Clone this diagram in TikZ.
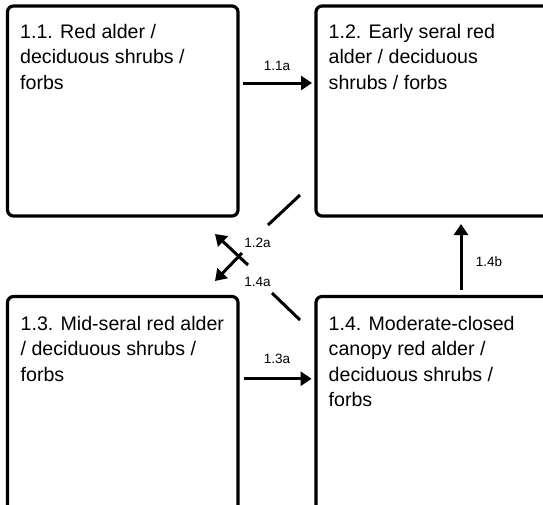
\documentclass[tikz,border=0pt]{standalone}
\usepackage{fontspec}
\setmainfont{Liberation Sans}
\usepackage{tikz}
\usetikzlibrary{arrows.meta, positioning, calc}

\begin{document}
\begin{tikzpicture}[x=1pt,y=-1pt,
    statebox/.style={draw=black,line width=3.2pt,rounded corners=6pt,outer sep=0pt,inner sep=0pt},
    statetext/.style={anchor=north west,inner sep=0pt,align=left,font=\fontsize{19.6}{25.5}\selectfont},
    trans/.style={line width=3pt,-{Triangle[length=11pt,width=14pt]}},
    transline/.style={line width=3pt},
    translabel/.style={inner sep=0pt,font=\fontsize{13.5}{15}\selectfont}]
    \useasboundingbox (0,0) rectangle (543,504);
    \clip (0,0) rectangle (543,504);

    % Stati
    \node[statebox,minimum width=230.5,minimum height=210] (s11) at (122.75,111) {};
    \node[statebox,minimum width=244,minimum height=210] (s12) at (438,111) {};
    \node[statebox,minimum width=230.5,minimum height=233.5] (s13) at (122.75,413.25) {};
    \node[statebox,minimum width=244,minimum height=233.5] (s14) at (438,413.25) {};

    \node[statetext] (t11) at ([shift={(12.5,18)}]s11.north west) {1.1. Red alder /\\deciduous shrubs /\\forbs};
    \node[statetext] (t12) at ([shift={(12.5,18)}]s12.north west) {1.2. Early seral red\\alder / deciduous\\shrubs / forbs};
    \node[statetext] (t13) at ([shift={(13,19.5)}]s13.north west) {1.3. Mid-seral red alder\\/ deciduous shrubs /\\forbs};
    \node[statetext] (t14) at ([shift={(12.5,19.5)}]s14.north west) {1.4. Moderate-closed\\canopy red alder /\\deciduous shrubs /\\forbs};

    % Transizioni
    \draw[trans] ([shift={(5,-28)}]s11.east) -- ([shift={(-4,-28)}]s12.west);
    \node[translabel] (l11a) at (277,65.5) {1.1a};

    \draw[trans] ([shift={(6,-34.5)}]s13.east) -- ([shift={(-4.4,-34.5)}]s14.west);
    \node[translabel] (l13a) at (277,359) {1.3a};

    \draw[trans] ([shift={(23,-6.5)}]s14.north) -- ([shift={(23,8)}]s12.south);
    \node[translabel] (l14b) at (489,262) {1.4b};

    % Diagonali
    \coordinate (d12a) at (268,225);
    \coordinate (a12a) at (248,265);
    \coordinate (h12a) at (215,234);
    \draw[transline] ([shift={(-16,-21)}]s12.south west) -- (d12a);
    \draw[trans] (a12a) -- (h12a);
    \node[translabel] (l12a) at (257.5,243) {1.2a};

    \coordinate (d14a) at (272,293);
    \coordinate (a14a) at (242,253);
    \coordinate (h14a) at (215,281);
    \draw[transline] ([shift={(-16,23.5)}]s14.north west) -- (d14a);
    \draw[trans] (a14a) -- (h14a);
    \node[translabel] (l14a) at (257.5,282) {1.4a};
\end{tikzpicture}
\end{document}
